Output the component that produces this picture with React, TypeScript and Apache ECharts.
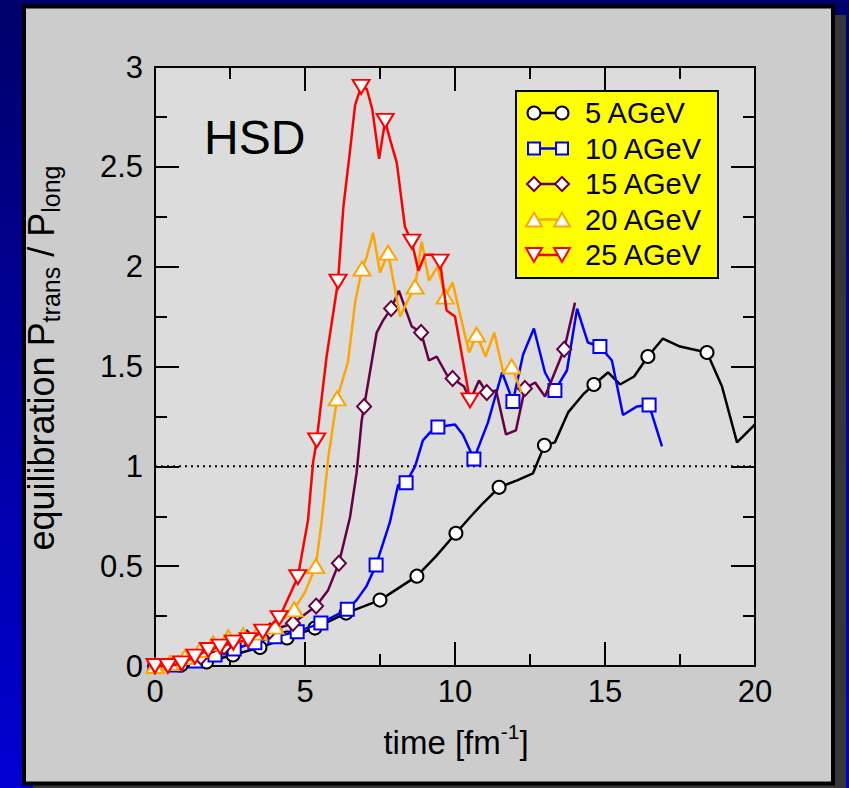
import React, { useEffect, useRef } from "react";
import * as echarts from "echarts";

// ---- data: [time, ratio, hasMarker] ----
const seriesNames = ["5 AGeV", "10 AGeV", "15 AGeV", "20 AGeV", "25 AGeV"];

const pts5 = [
  [0, 0, 1], [0.87, 0.005, 1], [1.72, 0.02, 1], [2.6, 0.055, 1], [3.5, 0.093, 1], [4.4, 0.14, 1],
  [5.33, 0.19, 1], [6.37, 0.265, 1], [7.5, 0.33, 1], [8.73, 0.45, 1], [9.37, 0.55, 0], [10.03, 0.665, 1],
  [10.5, 0.745, 0], [10.93, 0.815, 0], [11.47, 0.895, 1], [12.07, 0.93, 0], [12.6, 0.965, 0], [12.98, 1.105, 1],
  [13.33, 1.12, 0], [13.77, 1.27, 0], [14.27, 1.36, 0], [14.63, 1.41, 1], [15.1, 1.47, 0], [15.5, 1.41, 0],
  [15.97, 1.45, 0], [16.43, 1.55, 1], [16.93, 1.64, 0], [17.5, 1.6, 0], [18.4, 1.57, 1], [18.9, 1.4, 0],
  [19.4, 1.12, 0], [20, 1.21, 0],
];

const pts10 = [
  [0, 0, 1], [0.7, 0.005, 1], [1.35, 0.025, 1], [2.0, 0.055, 1], [2.64, 0.085, 1], [3.33, 0.117, 1],
  [4.0, 0.147, 1], [4.74, 0.172, 1], [5.53, 0.215, 1], [6.41, 0.284, 1], [6.72, 0.33, 0], [7.05, 0.4, 0],
  [7.37, 0.506, 1], [7.83, 0.72, 0], [8.1, 0.905, 0], [8.37, 0.918, 1], [8.67, 1.0, 0], [8.93, 1.13, 0],
  [9.17, 1.17, 0], [9.43, 1.197, 1], [10.0, 1.21, 0], [10.27, 1.157, 0], [10.63, 1.037, 1], [11.1, 1.22, 0],
  [11.57, 1.47, 0], [11.93, 1.325, 1], [12.27, 1.56, 0], [12.63, 1.69, 0], [13.0, 1.47, 0], [13.33, 1.38, 1],
  [13.73, 1.48, 0], [14.07, 1.79, 0], [14.43, 1.62, 0], [14.83, 1.6, 1], [15.23, 1.53, 0], [15.6, 1.257, 0],
  [16.07, 1.3, 0], [16.47, 1.307, 1], [16.9, 1.1, 0],
];

const pts15 = [
  [0, 0, 1], [0.77, 0.01, 1], [1.53, 0.045, 1], [2.3, 0.095, 1], [3.07, 0.14, 1], [3.83, 0.175, 1],
  [4.6, 0.214, 1], [5.37, 0.3, 1], [5.77, 0.38, 0], [6.13, 0.515, 1], [6.5, 0.745, 0], [6.72, 0.967, 0],
  [6.89, 1.23, 0], [6.97, 1.3, 1], [7.39, 1.67, 0], [7.6, 1.73, 0], [7.87, 1.79, 1], [8.13, 1.88, 0],
  [8.56, 1.7, 0], [8.87, 1.67, 1], [9.13, 1.53, 0], [9.39, 1.55, 0], [9.72, 1.46, 0], [9.92, 1.44, 1],
  [10.3, 1.4, 0], [10.5, 1.33, 0], [10.8, 1.43, 0], [11.06, 1.37, 1], [11.37, 1.38, 0], [11.7, 1.16, 0],
  [12.03, 1.18, 0], [12.33, 1.39, 1], [12.67, 1.42, 0], [13.0, 1.35, 0], [13.64, 1.586, 1], [14.0, 1.82, 0],
];

const pts20 = [
  [0, 0, 1], [0.5, 0.015, 1], [1.0, 0.045, 1], [1.5, 0.08, 1], [1.94, 0.113, 1], [2.44, 0.144, 1],
  [2.94, 0.155, 1], [3.44, 0.167, 1], [4.0, 0.197, 1], [4.64, 0.284, 1], [5.0, 0.37, 0], [5.36, 0.5, 1],
  [5.56, 0.73, 0], [5.78, 1.05, 0], [6.07, 1.34, 1], [6.43, 1.52, 0], [6.67, 1.82, 0], [6.9, 1.99, 1],
  [7.06, 2.05, 0], [7.27, 2.17, 0], [7.5, 1.97, 0], [7.77, 2.07, 1], [8.17, 1.75, 0], [8.39, 1.82, 0],
  [8.67, 1.9, 1], [8.89, 2.125, 0], [9.13, 1.93, 0], [9.42, 2.0, 0], [9.67, 1.85, 1], [9.92, 1.92, 0],
  [10.17, 1.76, 0], [10.47, 1.57, 0], [10.72, 1.66, 1], [11.02, 1.55, 0], [11.31, 1.67, 0], [11.61, 1.47, 0],
  [11.89, 1.5, 1], [12.22, 1.37, 0],
];

const pts25 = [
  [0, 0, 1], [0.43, 0.0, 1], [0.89, 0.013, 1], [1.33, 0.047, 1], [1.78, 0.08, 1], [2.17, 0.097, 1],
  [2.61, 0.117, 1], [3.11, 0.13, 1], [3.59, 0.172, 1], [4.14, 0.24, 1], [4.76, 0.445, 1], [5.1, 0.73, 0],
  [5.27, 1.02, 0], [5.39, 1.13, 1], [5.72, 1.55, 0], [6.1, 1.925, 1], [6.28, 2.3, 0], [6.5, 2.58, 0],
  [6.67, 2.81, 0], [6.87, 2.9, 1], [7.06, 2.89, 0], [7.24, 2.79, 0], [7.47, 2.54, 0], [7.67, 2.73, 1],
  [7.83, 2.64, 0], [8.06, 2.52, 0], [8.33, 2.2, 0], [8.56, 2.125, 1], [8.78, 1.98, 0], [9.0, 2.06, 0],
  [9.28, 2.06, 0], [9.5, 2.025, 1], [9.72, 1.78, 0], [10.0, 1.75, 0], [10.5, 1.33, 1],
];

const refLine = [[0, 1], [20, 1]];

const xMin = 0, xMax = 20, xStep = 5;
const yMin = 0, yMax = 3, yStep = 0.5;

// ---- styles ----
const FONT = "'Liberation Sans', Arial, Helvetica, sans-serif";
const colors = ["#000000", "#0000ff", "#660044", "#ffa500", "#ff0000"];
const symbols = ["circle", "rect", "diamond", "triangle", "triangle"];
const symbolSizes: any[] = [13, 13, [14, 15], [17, 14], [17, 14]];
const rotations = [0, 0, 0, 0, 180];
const allPts = [pts5, pts10, pts15, pts20, pts25];

function legendSymbol(i: number, cx: number, cy: number) {
  const style = { fill: "#ffffff", stroke: colors[i], lineWidth: 2 };
  if (i === 0) return { type: "circle", shape: { cx, cy, r: 6.5 }, style };
  if (i === 1) return { type: "rect", shape: { x: cx - 6, y: cy - 6, width: 12, height: 12 }, style };
  if (i === 2)
    return { type: "polygon", shape: { points: [[cx, cy - 7], [cx + 7, cy], [cx, cy + 7], [cx - 7, cy]] }, style };
  if (i === 3)
    return { type: "polygon", shape: { points: [[cx, cy - 7], [cx + 8, cy + 7], [cx - 8, cy + 7]] }, style };
  return { type: "polygon", shape: { points: [[cx - 8, cy - 7], [cx + 8, cy - 7], [cx, cy + 7]] }, style };
}

export default function App() {
  const ref = useRef<HTMLDivElement>(null);
  useEffect(() => {
    if (!ref.current) return;
    const chart = echarts.init(ref.current, undefined, { renderer: "svg" });

    const axisCommon = {
      type: "value",
      axisLine: { show: true, onZero: false, lineStyle: { color: "#000", width: 2 } },
      axisTick: { show: true, inside: true, length: 24, lineStyle: { color: "#000", width: 2 } },
      minorTick: { show: true, splitNumber: 2, length: 12, lineStyle: { color: "#000", width: 2 } },
      splitLine: { show: false },
      minorSplitLine: { show: false },
    };

    const series: any[] = [
      {
        type: "line",
        data: refLine,
        symbol: "none",
        silent: true,
        lineStyle: { color: "#000", width: 2, type: [2, 4] },
        z: 1,
      },
    ];
    allPts.forEach((pts, i) => {
      series.push({
        name: seriesNames[i],
        type: "line",
        symbol: symbols[i],
        symbolSize: symbolSizes[i],
        symbolRotate: rotations[i],
        showAllSymbol: true,
        data: pts.map((p) => ({ value: [p[0], p[1]], symbol: p[2] ? symbols[i] : "none" })),
        lineStyle: { color: colors[i], width: 2.5 },
        itemStyle: { color: "#ffffff", borderColor: colors[i], borderWidth: 2 },
        z: 2 + i,
      });
    });

    const legendX0 = 516, legendY0 = 91, legendW = 202, legendH = 187, rowH = 35.5, row0 = 113;
    const legendEls: any[] = [
      {
        type: "rect",
        shape: { x: legendX0, y: legendY0, width: legendW, height: legendH },
        style: { fill: "#ffff00", stroke: "#000", lineWidth: 2 },
        z: 100,
      },
    ];
    seriesNames.forEach((nm, i) => {
      const cy = row0 + i * rowH;
      legendEls.push({
        type: "line",
        shape: { x1: 534, y1: cy, x2: 562, y2: cy },
        style: { stroke: colors[i], lineWidth: 2.5 },
        z: 101,
      });
      legendEls.push({ ...legendSymbol(i, 534, cy), z: 102 });
      legendEls.push({ ...legendSymbol(i, 562, cy), z: 102 });
      legendEls.push({
        type: "text",
        x: 585,
        y: cy,
        style: { text: nm, fontSize: 29, fontFamily: FONT, fill: "#000", verticalAlign: "middle", align: "left" },
        z: 102,
      });
    });

    const option: any = {
      animation: false,
      backgroundColor: {
        type: "linear",
        x: 0, y: 0, x2: 0, y2: 1,
        colorStops: [
          { offset: 0, color: "#00006a" },
          { offset: 1, color: "#0000d2" },
        ],
      },
      grid: {
        left: 155, top: 67, width: 600, height: 599,
        show: true, backgroundColor: "#dcdcdc", borderWidth: 0,
      },
      xAxis: [
        {
          ...axisCommon,
          position: "bottom",
          min: xMin, max: xMax, interval: xStep,
          axisLabel: { show: true, fontSize: 31, fontFamily: FONT, color: "#000", margin: 10 },
        },
        {
          ...axisCommon,
          position: "top",
          min: xMin, max: xMax, interval: xStep,
          axisLabel: { show: false },
        },
      ],
      yAxis: [
        {
          ...axisCommon,
          position: "left",
          min: yMin, max: yMax, interval: yStep,
          axisLabel: { show: true, fontSize: 31, fontFamily: FONT, color: "#000", margin: 12 },
        },
        {
          ...axisCommon,
          position: "right",
          min: yMin, max: yMax, interval: yStep,
          axisLabel: { show: false },
        },
      ],
      series,
      graphic: [
        {
          type: "rect",
          shape: { x: 33, y: 15, width: 813, height: 790 },
          style: { fill: "#363636" },
          z: -100,
          silent: true,
        },
        {
          type: "rect",
          shape: { x: 24, y: 6.5, width: 809, height: 777 },
          style: { fill: "#cccccc", stroke: "#000", lineWidth: 4 },
          z: -99,
          silent: true,
        },
        {
          type: "text",
          x: 204,
          y: 137,
          style: { text: "HSD", fontSize: 48, fontFamily: FONT, fill: "#000", verticalAlign: "middle", align: "left" },
          z: 50,
        },
        {
          type: "text",
          x: 456,
          y: 742,
          style: {
            text: "{a|time [fm}{s|-1}{a|]}",
            align: "center",
            verticalAlign: "middle",
            fontFamily: FONT,
            fill: "#000",
            rich: {
              a: { fontSize: 33, fontFamily: FONT, lineHeight: 42, fill: "#000" },
              s: { fontSize: 21, fontFamily: FONT, lineHeight: 26, verticalAlign: "top", fill: "#000" },
            },
          },
          z: 50,
        },
        {
          type: "text",
          x: 41,
          y: 358,
          rotation: Math.PI / 2,
          style: {
            text: "{a|equilibration P}{s|trans}{a| / P}{s|long}",
            align: "center",
            verticalAlign: "middle",
            fontFamily: FONT,
            fill: "#000",
            rich: {
              a: { fontSize: 36, fontFamily: FONT, lineHeight: 44, fill: "#000" },
              s: { fontSize: 25, fontFamily: FONT, lineHeight: 25, verticalAlign: "bottom", fill: "#000" },
            },
          },
          z: 50,
        },
        ...legendEls,
      ],
    };
    chart.setOption(option);
    return () => chart.dispose();
  }, []);

  return <div ref={ref} style={{ position: "absolute", left: 0, top: 0, width: 849, height: 788 }} />;
}
